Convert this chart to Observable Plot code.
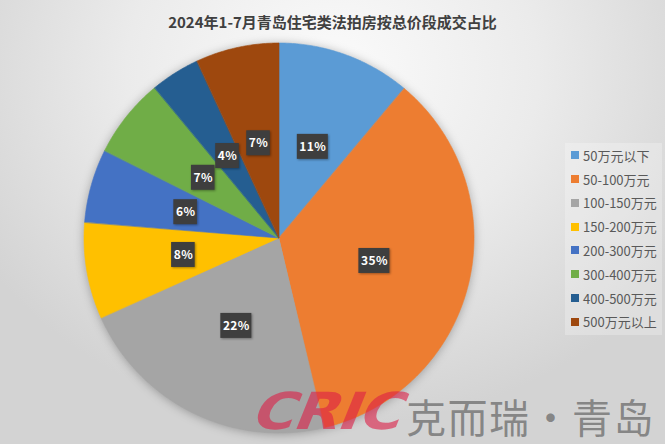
<!DOCTYPE html>
<html><head><meta charset="utf-8">
<script src="https://cdn.jsdelivr.net/npm/d3@7"></script>
<script src="https://cdn.jsdelivr.net/npm/@observablehq/plot@0.6"></script>
<style>
html,body{margin:0;padding:0;}
#wrap{position:relative;width:665px;height:444px;overflow:hidden;
  background:radial-gradient(ellipse 62% 80% at 50% 16%, #fbfbfb 0%, #ebebeb 50%, #d3d3d3 100%);
  font-family:"Noto Sans CJK SC","Noto Sans",sans-serif;}
#title{position:absolute;left:0;width:665px;top:11px;text-align:center;font-size:15px;line-height:22px;font-weight:bold;color:#404040;}
#chart{position:absolute;left:0;top:0;}
#chart g[aria-label="area"]{filter:drop-shadow(0 1px 5px rgba(0,0,0,0.28));}
#chart g[aria-label="rect"]{filter:drop-shadow(1.5px 1.5px 1px rgba(0,0,0,0.35));}
#chart g[aria-label="text"]{letter-spacing:0.4px;}
#legend{position:absolute;left:565px;top:143px;width:97px;height:192px;background:rgba(255,255,255,0.25);box-sizing:border-box;padding-top:0.4px;}
.item{height:23.8px;display:flex;align-items:center;font-size:13px;color:#595959;white-space:nowrap;}
.sw{width:8px;height:8px;margin-left:6px;margin-right:4px;flex:none;}
#cric{position:absolute;left:243px;top:380px;font-family:"DejaVu Sans",sans-serif;font-weight:bold;font-size:51px;line-height:64px;color:rgba(220,30,70,0.6);transform-origin:left bottom;transform:skewX(-22deg) scaleX(1.15);letter-spacing:-1px;}
#kerui{position:absolute;left:406px;top:389px;font-size:40px;line-height:54px;color:rgba(120,120,120,0.85);letter-spacing:1.5px;white-space:nowrap;}
</style></head>
<body>
<div id="wrap">
  <div id="chart"></div>
  <div id="title">2024年1-7月青岛住宅类法拍房按总价段成交占比</div>
  <div id="legend"></div>
  <div id="cric">CRIC</div>
  <div id="kerui">克而瑞·青岛</div>
</div>
<script>
const categories = ["50万元以下","50-100万元","100-150万元","150-200万元","200-300万元","300-400万元","400-500万元","500万元以上"];
const shares = [11.1, 35.2, 22.0, 8.0, 6.1, 6.6, 4.1, 6.9];
const labels = ["11%","35%","22%","8%","6%","7%","4%","7%"];
const colors = ["#5b9bd5","#ed7d31","#a5a5a5","#ffc000","#4472c4","#70ad47","#255e91","#9e480e"];

const total = d3.sum(shares);
let cum = 0;
const slices = categories.map((c, i) => {
  const a0 = cum / total * 2 * Math.PI;
  cum += shares[i];
  const a1 = cum / total * 2 * Math.PI;
  return {cat: c, a0, a1, label: labels[i]};
});
const arcPts = slices.flatMap(s => {
  const n = Math.max(2, Math.ceil((s.a1 - s.a0) / 0.01));
  return d3.range(n + 1).map(k => {
    const a = s.a0 + (s.a1 - s.a0) * k / n;
    return {cat: s.cat, x: Math.sin(a), y: Math.cos(a)};
  });
});
const labelPts = slices.map(s => {
  const m = (s.a0 + s.a1) / 2;
  return {cat: s.cat, label: s.label, x: 0.5 * Math.sin(m), y: 0.5 * Math.cos(m)};
});

const chart = Plot.plot({
  width: 665, height: 444,
  marginLeft: 84, marginRight: 191, marginTop: 43, marginBottom: 11,
  style: {background: "transparent", overflow: "visible"},
  x: {domain: [-1, 1], axis: null},
  y: {domain: [-1, 1], axis: null},
  color: {domain: categories, range: colors},
  marks: [
    Plot.area(arcPts, {x1: d => 0, y1: d => 0, x2: "x", y2: "y", z: "cat", fill: "cat", stroke: "cat", strokeWidth: 0.6}),
    Plot.rect(labelPts.filter(d => d.label.length === 3), {x1: "x", x2: "x", y1: "y", y2: "y",
      insetLeft: -15.5, insetRight: -15.5, insetTop: -12.5, insetBottom: -12.5, fill: "#3e3e3e"}),
    Plot.rect(labelPts.filter(d => d.label.length === 2), {x1: "x", x2: "x", y1: "y", y2: "y",
      insetLeft: -11.8, insetRight: -11.8, insetTop: -12.5, insetBottom: -12.5, fill: "#3e3e3e"}),
    Plot.text(labelPts, {x: "x", y: "y", text: "label", fill: "white", fontSize: 12, fontWeight: "bold",
      fontFamily: "'Noto Sans CJK SC', sans-serif"})
  ]
});
document.getElementById("chart").appendChild(chart);

const legend = document.getElementById("legend");
categories.forEach((c, i) => {
  const it = document.createElement("div");
  it.className = "item";
  const sw = document.createElement("span");
  sw.className = "sw";
  sw.style.background = colors[i];
  const tx = document.createElement("span");
  tx.textContent = c;
  it.appendChild(sw); it.appendChild(tx);
  legend.appendChild(it);
});
</script>
</body></html>
